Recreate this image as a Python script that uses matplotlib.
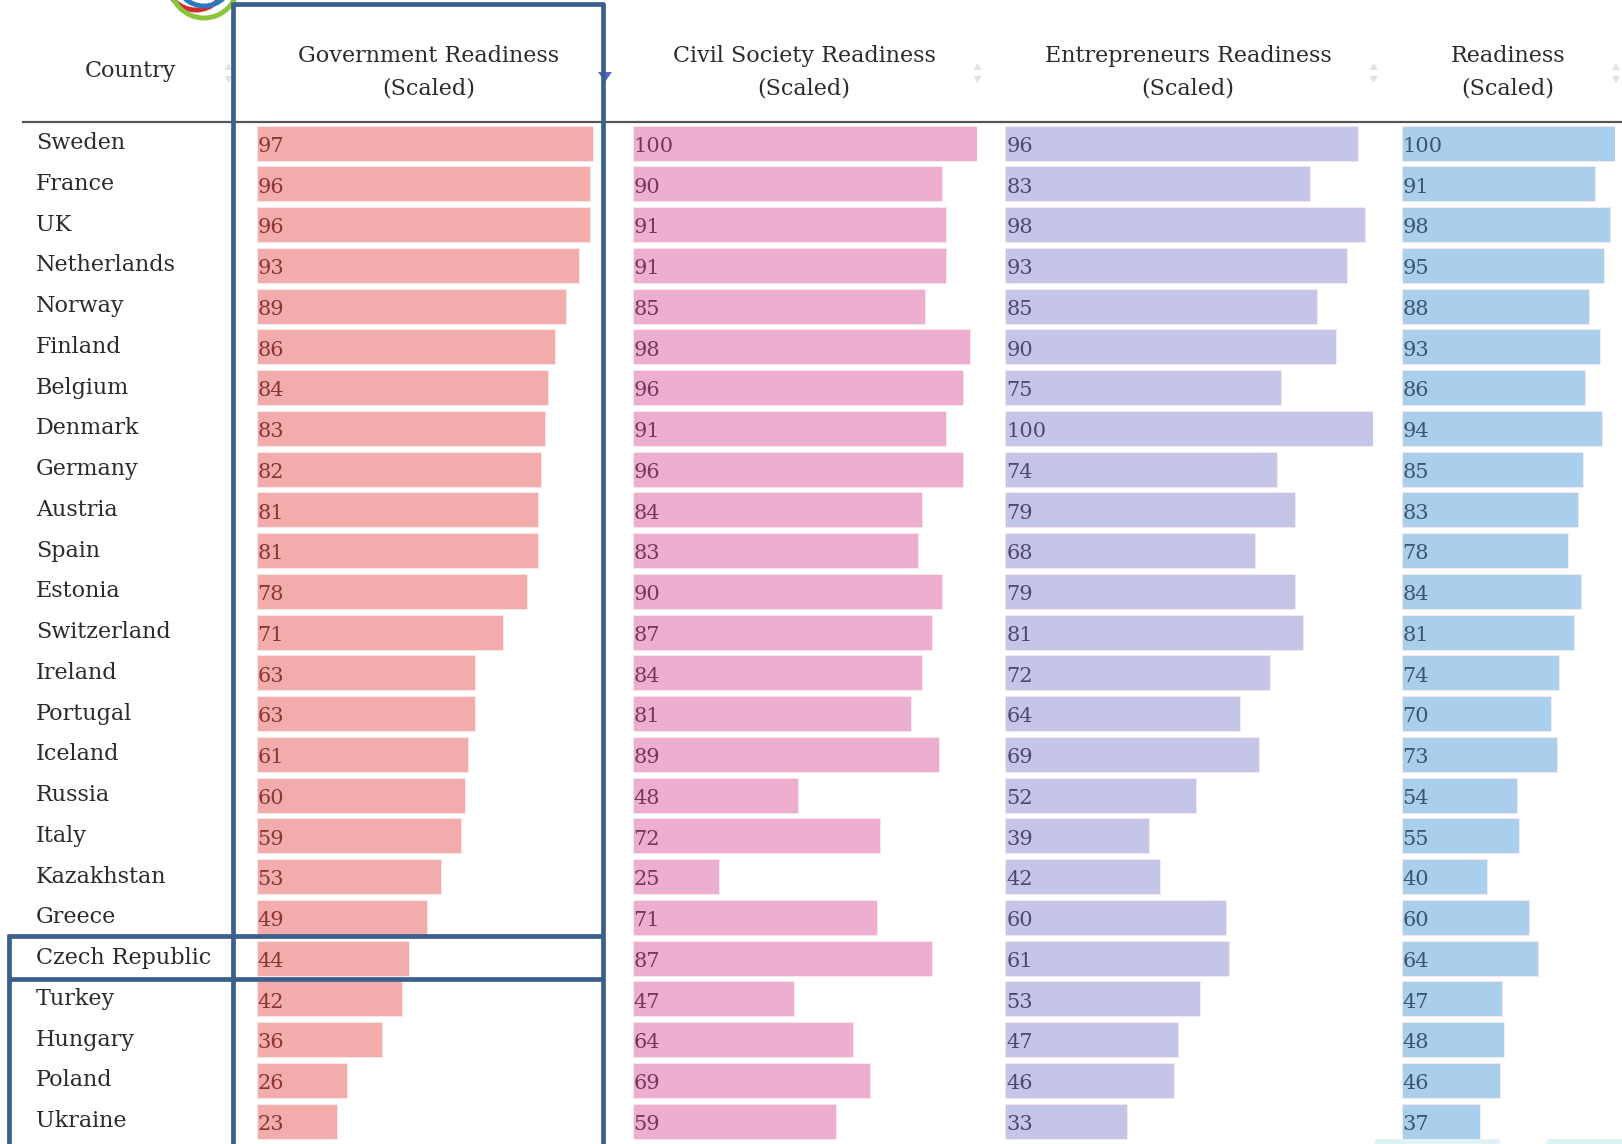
import matplotlib.pyplot as plt
from matplotlib.patches import Circle, Polygon
import numpy as np

countries = ['Sweden', 'France', 'UK', 'Netherlands', 'Norway', 'Finland', 'Belgium',
             'Denmark', 'Germany', 'Austria', 'Spain', 'Estonia', 'Switzerland', 'Ireland',
             'Portugal', 'Iceland', 'Russia', 'Italy', 'Kazakhstan', 'Greece',
             'Czech Republic', 'Turkey', 'Hungary', 'Poland', 'Ukraine']
gov = [97, 96, 96, 93, 89, 86, 84, 83, 82, 81, 81, 78, 71, 63, 63, 61, 60, 59, 53, 49, 44, 42, 36, 26, 23]
civil = [100, 90, 91, 91, 85, 98, 96, 91, 96, 84, 83, 90, 87, 84, 81, 89, 48, 72, 25, 71, 87, 47, 64, 69, 59]
entre = [96, 83, 98, 93, 85, 90, 75, 100, 74, 79, 68, 79, 81, 72, 64, 69, 52, 39, 42, 60, 61, 53, 47, 46, 33]
ready = [100, 91, 98, 95, 88, 93, 86, 94, 85, 83, 78, 84, 81, 74, 70, 73, 54, 55, 40, 60, 64, 47, 48, 46, 37]
headers = ['Government Readiness\n(Scaled)', 'Civil Society Readiness\n(Scaled)',
           'Entrepreneurs Readiness\n(Scaled)', 'Readiness\n(Scaled)']

W, H = 1622, 1144
plt.rcParams['font.family'] = 'DejaVu Serif'

fig = plt.figure(figsize=(W / 100, H / 100), dpi=100)

row_top = 122.8
row_h = 40.75
n = len(countries)
row_bot = row_top + n * row_h


def col_axes(x0, width):
    ax = fig.add_axes([x0 / W, 1 - row_bot / H, width / W, (row_bot - row_top) / H])
    ax.set_ylim(n - 0.5, -0.5)
    ax.set_xlim(0, 100)
    ax.axis('off')
    return ax


# country names
axc = col_axes(36, 180)
for i, c in enumerate(countries):
    axc.text(0, i, c, ha='left', va='center', fontsize=16, color='#2b2b2b')

cols = [
    (gov, 256.7, 347, '#f2acac', '#8b3535'),
    (civil, 632.6, 344, '#edaecf', '#7b3560'),
    (entre, 1005.5, 367, '#c4c5e7', '#4b4b72'),
    (ready, 1401.6, 213, '#a9cfec', '#3d5570'),
]
for vals, x0, w, fc, tc in cols:
    ax = col_axes(x0, w)
    y = np.arange(n)
    ax.barh(y, vals, height=0.86, color=fc, edgecolor='#fbe9ee', linewidth=0.6)
    for i, v in enumerate(vals):
        ax.text(0.3, i + 0.08, str(v), ha='left', va='center', fontsize=15, color=tc)

# overlay for header, frame and decoration
ov = fig.add_axes([0, 0, 1, 1], zorder=10)
ov.set_xlim(0, W)
ov.set_ylim(H, 0)
ov.axis('off')
ov.patch.set_alpha(0)

# logo fragment
for cx, cy, r, col in [(196, -20, 30, '#d42a2a'), (204, -22, 28, '#2a78c0'), (204, -16, 34, '#8cc43c')]:
    ov.add_patch(Circle((cx, cy), r, fill=False, lw=3.5, ec=col))

ov.text(131, 71, 'Country', ha='center', va='center', fontsize=16, color='#2b2b2b')
hx = [429, 804, 1188, 1508]
for x, h in zip(hx, headers):
    ov.text(x, 72, h, ha='center', va='center', fontsize=16, color='#2b2b2b',
            linespacing=1.6)

# sort arrows
for x in [228.6, 977.5, 1373.7, 1616]:
    ov.add_patch(Polygon([[x - 4, 70], [x + 4, 70], [x, 63]], closed=True, fc='#e2e2e2', ec='none'))
    ov.add_patch(Polygon([[x - 4, 76], [x + 4, 76], [x, 83]], closed=True, fc='#e2e2e2', ec='none'))
ov.add_patch(Polygon([[598, 72], [612, 72], [605, 82]], closed=True, fc='#5b63d6', ec='none'))

# header rule
ov.plot([23, W], [122, 122], color='#555555', lw=1.6)

# highlight frame
bc = '#3c5f8d'
lw = 3.4
ov.plot([233, 602.5, 602.5], [4, 4, H], color=bc, lw=lw, solid_capstyle='butt')
ov.plot([233, 233], [2, H], color=bc, lw=lw, solid_capstyle='butt')
ov.plot([8, 602.5], [936, 936], color=bc, lw=lw, solid_capstyle='butt')
ov.plot([8, 602.5], [978.5, 978.5], color=bc, lw=lw, solid_capstyle='butt')
ov.plot([9, 9], [934, H], color=bc, lw=lw, solid_capstyle='butt')

# faint shape bottom right
ov.fill_between([1375, 1500], [1139, 1139], [H, H], color='#dff2f6', lw=0)
ov.fill_between([1547, W], [1139, 1139], [H, H], color='#dff2f6', lw=0)

fig.savefig('out.png', dpi=100)
